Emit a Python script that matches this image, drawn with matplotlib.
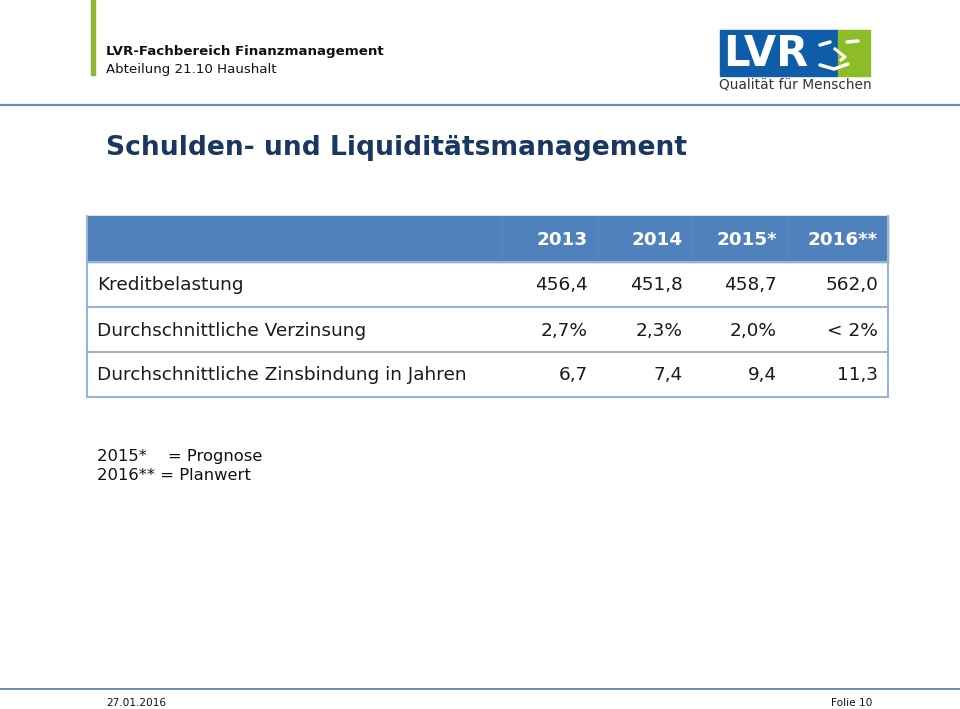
import matplotlib
matplotlib.use("Agg")
import matplotlib.pyplot as plt
from matplotlib.patches import Rectangle

# Tabellendaten
jahre = ["2013", "2014", "2015*", "2016**"]
zeilen = ["Kreditbelastung",
          "Durchschnittliche Verzinsung",
          "Durchschnittliche Zinsbindung in Jahren"]
kreditbelastung = [456.4, 451.8, 458.7, 562.0]
verzinsung = ["2,7%", "2,3%", "2,0%", "< 2%"]
zinsbindung = [6.7, 7.4, 9.4, 11.3]
fussnoten = ["2015*    = Prognose", "2016** = Planwert"]


def de(x):
    return f"{x:.1f}".replace(".", ",")


werte = [[de(v) for v in kreditbelastung], verzinsung, [de(v) for v in zinsbindung]]

# Folie in Pixelkoordinaten
fig = plt.figure(figsize=(9.6, 7.09), dpi=100)
ax = fig.add_axes([0, 0, 1, 1])
ax.set_xlim(0, 960)
ax.set_ylim(709, 0)
ax.axis("off")

# Kopfbereich
ax.add_patch(Rectangle((91, 0), 3.5, 75, color="#8db735"))
ax.text(106, 51, "LVR-Fachbereich Finanzmanagement", fontsize=9.6,
        fontweight="bold", va="center", color="#111111")
ax.text(106, 69, "Abteilung 21.10 Haushalt", fontsize=9.6, va="center", color="#111111")
ax.plot([0, 960], [105, 105], color="#6f8ea6", lw=1.6)

# Logo
ax.add_patch(Rectangle((720, 30), 118, 46, color="#0f5ca8"))
ax.add_patch(Rectangle((838, 30), 32, 46, color="#8cbc26"))
ax.text(723, 54, "LVR", fontsize=30, fontweight="bold", color="white",
        va="center", ha="left")
ax.plot([820, 830], [45, 42], color="white", lw=2.5, solid_capstyle="round")
ax.plot([847, 858], [42, 41], color="white", lw=2.5, solid_capstyle="round")
ax.plot([835, 845, 841], [49, 57, 60], color="white", lw=2.2)
ax.plot([820, 834, 848], [65, 69, 64], color="white", lw=2.5, solid_capstyle="round")
ax.text(719, 85, "Qualität für Menschen", fontsize=9.9, color="#333333",
        va="center", ha="left")

# Titel
ax.text(106, 148, "Schulden- und Liquiditätsmanagement", fontsize=19.1,
        fontweight="bold", color="#1a3762", va="center")

# Tabelle
links, rechts = 87, 888
zeilen_y = [216, 262, 307, 352, 397]
spalten_rechts = [588, 683, 777, 878]
spalten_grenzen = [502, 598, 692, 787]
rand = "#9bb2d3"

ax.add_patch(Rectangle((links, zeilen_y[0]), rechts - links, zeilen_y[1] - zeilen_y[0],
                       color="#4f81bd", zorder=1))
for g in spalten_grenzen:
    ax.plot([g, g], [zeilen_y[0], zeilen_y[1]], color="#5a8ac4", lw=0.8, zorder=2)
for y in zeilen_y[1:]:
    ax.plot([links, rechts], [y, y], color=rand, lw=1.5, zorder=2)
ax.plot([links, links], [zeilen_y[0], zeilen_y[-1]], color=rand, lw=1.5, zorder=2)
ax.plot([rechts, rechts], [zeilen_y[0], zeilen_y[-1]], color=rand, lw=1.5, zorder=2)

kopf_mitte = (zeilen_y[0] + zeilen_y[1]) / 2 + 1
for j, jahr in enumerate(jahre):
    ax.text(spalten_rechts[j], kopf_mitte, jahr, fontsize=13.2, fontweight="bold",
            color="white", ha="right", va="center", zorder=3)

for i, name in enumerate(zeilen):
    ym = (zeilen_y[i + 1] + zeilen_y[i + 2]) / 2 + 1
    ax.text(97, ym, name, fontsize=13.3, color="#1a1a1a", va="center", zorder=3)
    for j, w in enumerate(werte[i]):
        ax.text(spalten_rechts[j], ym, w, fontsize=13.3, color="#1a1a1a",
                ha="right", va="center", zorder=3)

# Fußnoten
for k, f in enumerate(fussnoten):
    ax.text(97, 457 + 19 * k, f, fontsize=11.8, color="#111111", va="center")

# Fußzeile
ax.plot([0, 960], [689, 689], color="#6b93ae", lw=1.4)
ax.text(106, 703, "27.01.2016", fontsize=7.6, color="#111111", va="center")
ax.text(872, 703, "Folie 10", fontsize=7.6, color="#111111", va="center", ha="right")

fig.savefig("out.png", dpi=100)
